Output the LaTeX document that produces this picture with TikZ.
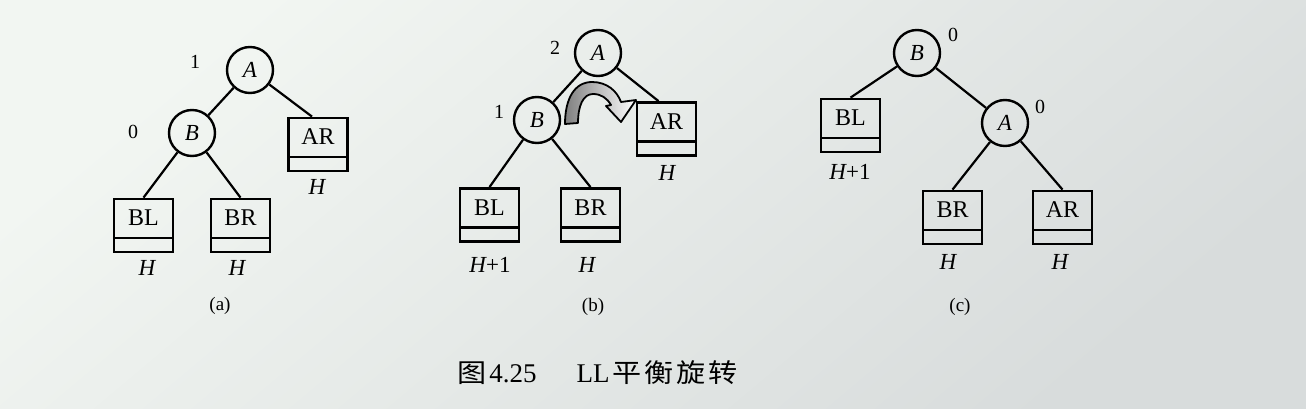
\documentclass[tikz,border=0pt]{standalone}
\usepackage{fontspec}
\setmainfont{Liberation Serif}
\newfontfamily\cjkfont[FakeStretch=1.12]{Noto Sans CJK SC}
\newcommand\fsz[1]{\fontsize{#1}{#1}\selectfont}
\definecolor{paperA}{HTML}{F2F6F2}
\definecolor{paperB}{HTML}{D8DCDC}
\begin{document}
\begin{tikzpicture}[x=1pt,y=-1pt,
  nd/.style={circle, draw, line width=2.4pt, minimum size=46pt, inner sep=0pt, font=\fsz{23}\itshape},
  sub/.style={draw, line width=2.8pt, minimum width=59pt, minimum height=53pt, inner sep=0pt,
    text height=0pt, text depth=0pt, font=\fsz{24},
    path picture={\draw[line width=2.8pt]
      ([yshift=14pt]path picture bounding box.south west) --
      ([yshift=14pt]path picture bounding box.south east);}},
  bf/.style={inner sep=0pt, font=\fsz{20}},
  ht/.style={inner sep=0pt, font=\fsz{23}\itshape},
  sublabel/.style={inner sep=0pt, font=\fsz{19}},
  conn/.style={line width=2.2pt}]
\shade[top color=paperA, bottom color=paperB, shading angle=40] (0,0) rectangle (1306,409);
\useasboundingbox (0,0) rectangle (1306,409);

% ---------- (a)
\node[nd] (aA) at (250,70) {A};
\node[nd] (aB) at (192,133) {B};
\node[bf] (aA1) at (195,62) {1};
\node[bf] (aB0) at (133,132) {0};
\node[sub] (aAR) at (318,144.5) {AR};
\node[sub] (aBL) at (143.5,225.5) {BL};
\node[sub] (aBR) at (240.5,225.5) {BR};
\node[ht] (aH1) at (317,187) {H};
\node[ht] (aH2) at (147,268) {H};
\node[ht] (aH3) at (237,268) {H};
\node[sublabel] (capa) at (220,306) {(a)};
\draw[conn] (aA) -- (aB);
\draw[conn] (aA) -- ([xshift=-6pt]aAR.north);
\draw[conn] (aB) -- (aBL.north);
\draw[conn] (aB) -- (aBR.north);

% ---------- (b)
\node[nd] (bA) at (598,53) {A};
\node[nd] (bB) at (537,120) {B};
\node[bf] (bA2) at (555,48) {2};
\node[bf] (bB1) at (499,112) {1};
\node[sub] (bAR) at (666.5,129) {AR};
\node[sub] (bBL) at (489.5,215) {BL};
\node[sub] (bBR) at (590.5,215) {BR};
\node[ht] (bH1) at (667,173) {H};
\node[ht] (bH2) at (490,265) {H\upshape+1};
\node[ht] (bH3) at (587,265) {H};
\node[sublabel] (capb) at (593,307) {(b)};
\draw[conn] (bA) -- (bB);
\draw[conn] (bA) -- ([xshift=-8pt]bAR.north);
\draw[conn] (bB) -- (bBL.north);
\draw[conn] (bB) -- (bBR.north);
\shadedraw[line width=1.8pt, left color=black!50, right color=white, draw=black, line join=round]
  (565,124) .. controls (565,98) and (575,82) .. (592,82)
  .. controls (607,82) and (617,91) .. (621,102)
  -- (636,100) -- (621,122) -- (606,106) -- (611,105)
  .. controls (607,98) and (601,94) .. (593,94)
  .. controls (583,94) and (578,106) .. (578,123) -- cycle;

% ---------- (c)
\node[nd] (cB) at (917,53) {B};
\node[nd] (cA) at (1005,123) {A};
\node[bf] (cB0) at (953,35) {0};
\node[bf] (cA0) at (1040,107) {0};
\node[sub] (cBL) at (850.5,125.5) {BL};
\node[sub] (cBR) at (952.5,217.5) {BR};
\node[sub] (cAR) at (1062.5,217.5) {AR};
\node[ht] (cH1) at (850,172) {H\upshape+1};
\node[ht] (cH2) at (948,262) {H};
\node[ht] (cH3) at (1060,262) {H};
\node[sublabel] (capc) at (960,307) {(c)};
\draw[conn] (cB) -- (cBL.north);
\draw[conn] (cB) -- (cA);
\draw[conn] (cA) -- (cBR.north);
\draw[conn] (cA) -- (cAR.north);

% ---------- caption
\node[inner sep=0pt, anchor=west, font=\fsz{27}] (title) at (457,373)
  {{\cjkfont\fsz{26}图}\kern3pt 4.25\kern40pt LL\kern3pt{\cjkfont\fsz{26}平\kern3pt 衡\kern3pt 旋\kern3pt 转}};
\end{tikzpicture}
\end{document}
